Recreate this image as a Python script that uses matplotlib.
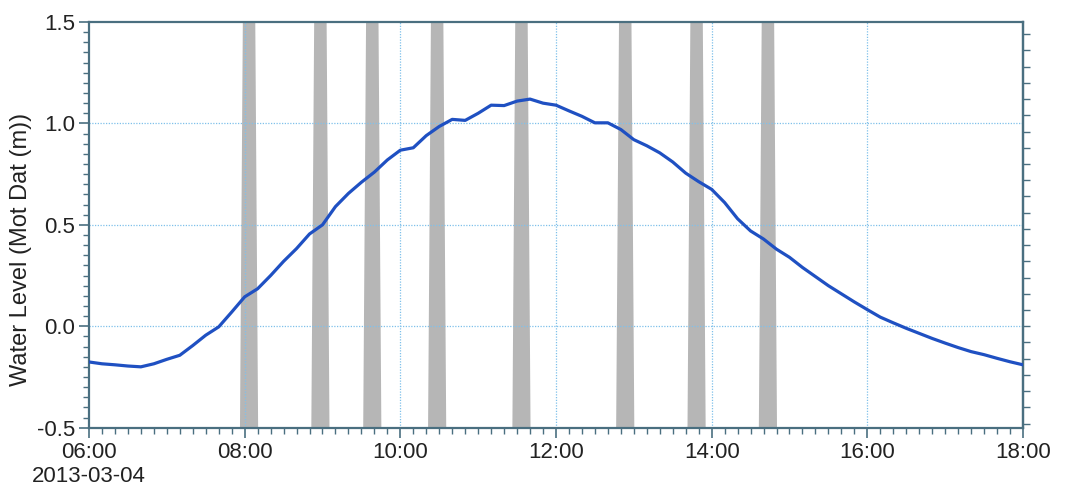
import matplotlib
matplotlib.use("Agg")
import matplotlib.pyplot as plt
import matplotlib.dates as mdates
from matplotlib.ticker import MultipleLocator, NullFormatter
from datetime import datetime, timedelta
import numpy as np

plt.rcParams['font.family'] = ['Liberation Sans', 'DejaVu Sans']
plt.rcParams['axes.unicode_minus'] = False

# water level readings, every 10 minutes from 06:00
start_time = datetime(2013, 3, 4, 6, 0)
water_level = [
    -0.176, -0.185, -0.190, -0.196, -0.200, -0.185, -0.163, -0.143, -0.095, -0.044,
    -0.003, 0.070, 0.145, 0.185, 0.250, 0.320, 0.383, 0.455, 0.500, 0.590,
    0.655, 0.710, 0.760, 0.820, 0.868, 0.880, 0.940, 0.985, 1.020, 1.015,
    1.050, 1.090, 1.088, 1.110, 1.120, 1.100, 1.090, 1.062, 1.035, 1.003,
    1.003, 0.970, 0.920, 0.890, 0.855, 0.810, 0.755, 0.713, 0.675, 0.610,
    0.530, 0.470, 0.430, 0.380, 0.340, 0.290, 0.245, 0.200, 0.160, 0.120,
    0.082, 0.045, 0.017, -0.010, -0.035, -0.060, -0.083, -0.105, -0.125, -0.140,
    -0.158, -0.175, -0.190,
]
times = [start_time + timedelta(minutes=10 * i) for i in range(len(water_level))]

# gray bands (centre times)
band_centres = ["08:03", "08:58", "09:38", "10:28", "11:33", "12:53", "13:48", "14:43"]

x_tick_times = ["06:00", "08:00", "10:00", "12:00", "14:00", "16:00", "18:00"]
x_tick_labels = ["06:00\n2013-03-04", "08:00", "10:00", "12:00", "14:00", "16:00", "18:00"]
y_ticks = [-0.5, 0.0, 0.5, 1.0, 1.5]
y_tick_labels = ["-0.5", "0.0", "0.5", "1.0", "1.5"]


def to_dt(s):
    h, m = s.split(":")
    return datetime(2013, 3, 4, int(h), int(m))


fig = plt.figure(figsize=(10.84, 4.87), dpi=100)
ax = fig.add_axes([0.0821, 0.1218, 0.8616, 0.833])

spine_col = "#4a6f80"
grid_col = "#7fc0ea"

ymin, ymax = -0.5, 1.5
ax.set_ylim(ymin, ymax)
ax.set_xlim(to_dt("06:00"), to_dt("18:00"))

# tapered bands: narrower at the top than at the bottom
half_bottom = 7.0 / (24 * 60)
half_top = 4.8 / (24 * 60)
yy = np.array([ymin, ymax])
for c in band_centres:
    cx = mdates.date2num(to_dt(c))
    half = np.array([half_bottom, half_top])
    ax.fill_betweenx(yy, cx - half, cx + half, color="#b6b6b6", lw=0, zorder=1)

# grid
for t in x_tick_times[1:-1]:
    ax.axvline(to_dt(t), color=grid_col, lw=0.9, ls=(0, (1, 1.2)), zorder=1.5)
for v in y_ticks[1:-1]:
    ax.axhline(v, color=grid_col, lw=0.9, ls=(0, (1, 1.2)), zorder=1.5)

ax.plot(times, water_level, color="#1f50c2", lw=2.3, zorder=3)

ax.set_xticks([to_dt(t) for t in x_tick_times])
ax.set_xticklabels(x_tick_labels, fontsize=16, color="#222222")
ax.xaxis.set_minor_locator(mdates.MinuteLocator(byminute=range(0, 60, 10)))
ax.set_yticks(y_ticks)
ax.set_yticklabels(y_tick_labels, fontsize=16, color="#222222")
ax.yaxis.set_minor_locator(MultipleLocator(0.05))

ax.tick_params(axis="both", which="major", direction="out", length=7, width=1.2,
               color=spine_col, pad=3)
ax.tick_params(axis="both", which="minor", direction="out", length=4, width=1.0,
               color=spine_col)
ax.tick_params(top=False, right=False, which="both")

for s in ax.spines.values():
    s.set_color(spine_col)
    s.set_linewidth(1.6)

sec = ax.secondary_yaxis("right")
sec.yaxis.set_major_locator(MultipleLocator(0.08))
sec.yaxis.set_major_formatter(NullFormatter())
sec.tick_params(direction="out", length=5, width=1.0, color=spine_col)
sec.spines["right"].set_color(spine_col)
sec.spines["right"].set_linewidth(1.6)

ax.set_ylabel("Water Level (Mot Dat (m))", fontsize=17, color="#222222")
ax.yaxis.set_label_coords(-0.061, 0.44)

fig.savefig("out.png", dpi=100)
